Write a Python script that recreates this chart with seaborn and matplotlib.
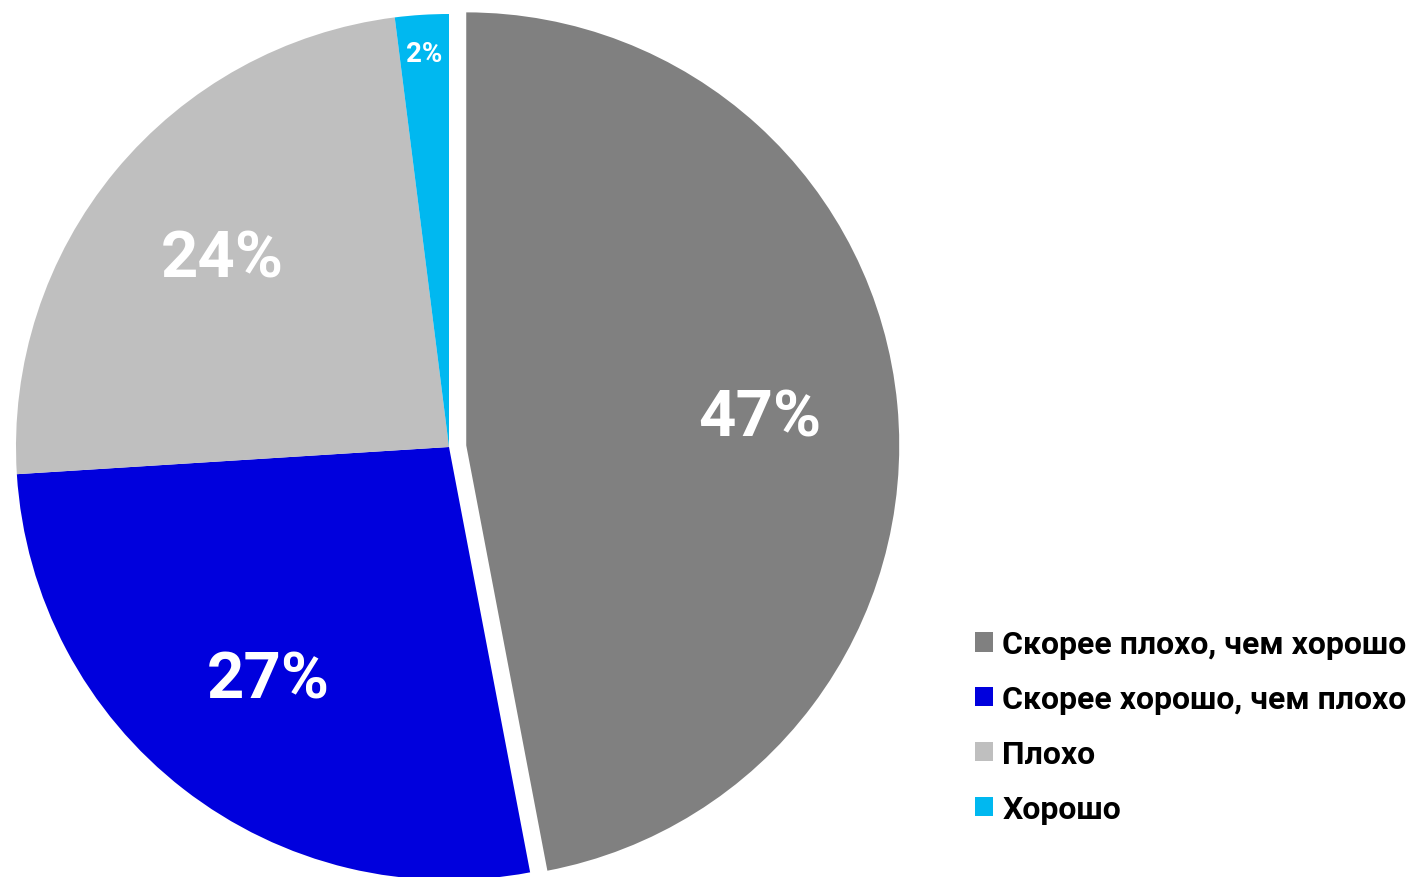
import numpy as np
import matplotlib
matplotlib.use("Agg")
import matplotlib.pyplot as plt
from matplotlib.patches import Patch
import seaborn as sns

# Survey answers and their shares (%)
categories = ["Скорее плохо, чем хорошо", "Скорее хорошо, чем плохо", "Плохо", "Хорошо"]
shares = [47, 27, 24, 2]
colors = ["#808080", "#0000DD", "#BFBFBF", "#00B8F0"]
explode = [0.04, 0, 0, 0]

sns.set_theme(style="white")
plt.rcParams["font.family"] = ["Roboto", "DejaVu Sans"]
plt.rcParams["text.color"] = "black"

W, H = 1414, 878
fig = plt.figure(figsize=(W / 100, H / 100), dpi=100)
ax = fig.add_axes([16 / W, -3 / H, 866 / W, 866 / H])

wedges, _ = ax.pie(
    shares,
    colors=colors,
    explode=explode,
    startangle=90,
    counterclock=False,
    radius=1.0,
    wedgeprops=dict(linewidth=0),
)
for w in wedges:
    w.set_clip_on(False)
ax.set_xlim(-1, 1)
ax.set_ylim(-1, 1)
ax.set_aspect("equal")
ax.axis("off")

# Percentage labels placed along each wedge's bisector
for w, v in zip(wedges, shares):
    mid = np.deg2rad((w.theta1 + w.theta2) / 2)
    cx, cy = w.center
    if v < 5:
        dist, size = 0.91, 20
    else:
        dist, size = 0.68, 47
    ax.text(cx + dist * np.cos(mid), cy + dist * np.sin(mid), f"{v}%",
            ha="center", va="center", color="white", fontsize=size,
            fontweight="bold", clip_on=False)

handles = [Patch(facecolor=c, edgecolor="none") for c in colors]
fig.legend(
    handles, categories,
    loc="upper left",
    bbox_to_anchor=(975 / W, (H - 630) / H),
    frameon=False,
    borderpad=0, borderaxespad=0,
    handlelength=0.57, handleheight=0.57,
    handletextpad=0.28, labelspacing=0.78,
    prop=dict(size=23, weight="bold"),
    labelcolor="black",
)

fig.savefig("out.png", dpi=100, facecolor="white")
